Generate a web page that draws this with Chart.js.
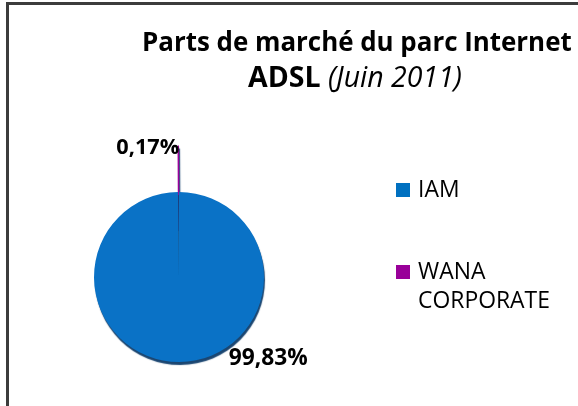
<!DOCTYPE html>
<html>
<head>
<meta charset="utf-8">
<script src="https://cdn.jsdelivr.net/npm/chart.js@4/dist/chart.umd.min.js"></script>
<style>
  html, body { margin: 0; padding: 0; background: #fff; }
  #wrap { position: relative; width: 578px; height: 406px; overflow: hidden; background: #fff; }
  #frame { position: absolute; left: 6px; top: 2px; width: 600px; height: 420px;
           border-left: 3px solid #3c3c3c; border-top: 3px solid #3c3c3c; box-sizing: border-box; }
  canvas { position: absolute; left: 0; top: 0; }
  .txt { position: absolute; white-space: nowrap; line-height: 1; color: #000;
         font-family: "Open Sans", Lato, sans-serif; }
  .sw { position: absolute; width: 14px; height: 14px; }
</style>
</head>
<body>
<div id="wrap">
  <div id="frame"></div>
  <canvas id="c" width="578" height="406"></canvas>
</div>
<script>
const categories = ["IAM", "WANA CORPORATE"];
const legendLines = [["IAM"], ["WANA", "CORPORATE"]];
const shares = [99.83, 0.17];
const colors = ["#0A72C6", "#9B009B"];
const legendColors = ["#0070C0", "#990099"];
const titleLine1 = "Parts de marché du parc Internet";
const titleLine2Bold = "ADSL";
const titleLine2Italic = "(Juin 2011)";

const FAMILY = '"Open Sans", Lato, sans-serif';
const mctx = document.createElement('canvas').getContext('2d');
function fitSize(text, weight, target) {
  mctx.font = weight + ' 100px ' + FAMILY;
  return 100 * target / mctx.measureText(text).width;
}
const wrap = document.getElementById('wrap');
function addText(html, size, left, cy, align) {
  const d = document.createElement('div');
  d.className = 'txt';
  d.style.fontSize = size + 'px';
  d.innerHTML = html;
  wrap.appendChild(d);
  d.style.top = (cy - 0.531 * size) + 'px';
  if (align === 'center') d.style.left = (left - d.offsetWidth / 2) + 'px';
  else d.style.left = left + 'px';
  return d;
}

// Title
const tSize = fitSize(titleLine1, 'bold', 430);
addText('<b>' + titleLine1 + '</b>', tSize, 357, 43, 'center');
mctx.font = 'bold 100px ' + FAMILY;
let w2 = mctx.measureText(titleLine2Bold + ' ').width;
mctx.font = 'italic 100px ' + FAMILY;
w2 += mctx.measureText(titleLine2Italic).width;
const t2Size = 100 * 214 / w2;
addText('<b>' + titleLine2Bold + '</b> <i>' + titleLine2Italic + '</i>', t2Size, 355, 77, 'center');

// Legend
const lSize = fitSize('CORPORATE', 'normal', 132);
const legendY = [190, 272];
categories.forEach((c, i) => {
  const sw = document.createElement('div');
  sw.className = 'sw';
  sw.style.background = legendColors[i];
  sw.style.left = '396px';
  sw.style.top = (legendY[i] - 7) + 'px';
  wrap.appendChild(sw);
  legendLines[i].forEach((line, k) => addText(line, lSize, 418, legendY[i] + k * 29, 'left'));
});

const fmt = v => v.toFixed(2).replace('.', ',') + '%';
const total = shares.reduce((a, b) => a + b, 0);

// chart order: small slice first so the big slice is drawn over its inner part
const chartLabels = categories.slice().reverse();
const chartData = shares.slice().reverse();
const chartColors = colors.slice().reverse();
const chartOffsets = [184, 0];

const shadowPlugin = {
  id: 'shadow3d',
  afterDatasetsUpdate(chart) {
    chart.getDatasetMeta(0).data.forEach((arc, i) => {
      const off = chartOffsets[i];
      if (off) {
        const circ = arc.endAngle - arc.startAngle;
        const fix = 1 - Math.sin(Math.min(Math.PI, circ));
        arc._baseR = arc.outerRadius;
        arc.outerRadius = arc.outerRadius - (off / 4) * fix;
      }
    });
  },
  beforeDatasetsDraw(chart) {
    const ctx = chart.ctx;
    ctx.save();
    ctx.shadowColor = 'rgba(15,60,105,0.95)';
    ctx.shadowOffsetX = 1;
    ctx.shadowOffsetY = 3;
    ctx.shadowBlur = 1;
  },
  afterDatasetsDraw(chart) {
    chart.ctx.restore();
  }
};

const labelPlugin = {
  id: 'pctLabels',
  afterDraw(chart) {
    const ctx = chart.ctx;
    const meta = chart.getDatasetMeta(0);
    ctx.save();
    ctx.fillStyle = '#000';
    ctx.textBaseline = 'alphabetic';
    meta.data.forEach((arc, i) => {
      const txt = fmt(chartData[i] / total * 100);
      const R = arc._baseR || arc.outerRadius;
      const off = chartOffsets[i];
      if (off) {
        const size = fitSize(txt, 'bold', 63);
        ctx.font = 'bold ' + size + 'px ' + FAMILY;
        const mid = (arc.startAngle + arc.endAngle) / 2;
        const r = R + off / 4;
        const tx = arc.x + Math.cos(mid) * r;
        const ty = arc.y + Math.sin(mid) * r;
        ctx.textAlign = 'right';
        ctx.fillText(txt, tx + 1, ty + 0.357 * size);
      } else {
        const size = fitSize(txt, 'bold', 79);
        ctx.font = 'bold ' + size + 'px ' + FAMILY;
        const a = 42 * Math.PI / 180;
        const r = R + 35;
        ctx.textAlign = 'center';
        ctx.fillText(txt, arc.x + Math.cos(a) * r, arc.y + Math.sin(a) * r + 0.357 * size);
      }
    });
    ctx.restore();
  }
};

new Chart(document.getElementById('c'), {
  type: 'pie',
  data: {
    labels: chartLabels,
    datasets: [{
      data: chartData,
      backgroundColor: chartColors,
      borderColor: chartColors,
      borderWidth: [1.5, 0],
      offset: chartOffsets,
      radius: 85
    }]
  },
  options: {
    responsive: false,
    animation: false,
    events: [],
    rotation: -chartData[0] / total * 360,
    layout: { padding: { left: 20, right: 240, top: 170, bottom: 22 } },
    plugins: { legend: { display: false }, title: { display: false }, tooltip: { enabled: false } }
  },
  plugins: [shadowPlugin, labelPlugin]
});
</script>
</body>
</html>
